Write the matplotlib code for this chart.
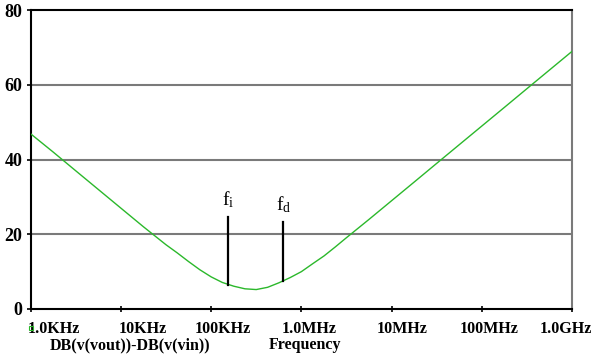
import matplotlib.pyplot as plt
from matplotlib.lines import Line2D
from matplotlib.transforms import ScaledTranslation

plt.rcParams["font.family"] = ["Liberation Serif", "DejaVu Serif"]
plt.rcParams["mathtext.fontset"] = "custom"
plt.rcParams["mathtext.rm"] = "Liberation Serif"

# Gain trace DB(v(vout))-DB(v(vin)) vs frequency
freq_hz = [1.0e3, 1.78e3, 3.16e3, 5.62e3, 1.0e4, 1.78e4, 3.16e4, 4.22e4,
           5.62e4, 7.50e4, 1.0e5, 1.33e5, 1.78e5, 2.37e5, 3.16e5, 4.22e5,
           5.62e5, 7.50e5, 1.0e6, 1.33e6, 1.78e6, 2.37e6, 3.16e6, 5.62e6,
           1.0e7, 1.78e7, 3.16e7, 5.62e7, 1.0e8, 1.78e8, 3.16e8, 5.62e8, 1.0e9]
gain_db = [46.9, 42.0, 37.0, 32.0, 27.0, 22.0, 17.2, 15.0,
           12.7, 10.5, 8.6, 7.1, 6.1, 5.4, 5.2, 5.8,
           7.0, 8.4, 10.0, 12.1, 14.2, 16.6, 19.1, 24.0,
           29.0, 34.0, 39.0, 44.0, 49.0, 54.0, 59.0, 64.0, 69.0]

# corner frequency markers f_i and f_d
mark_names = ["i", "d"]
mark_freq = [1.55e5, 6.3e5]
mark_low = [6.4, 7.4]
mark_high = [24.5, 23.2]

xticks = [1e3, 1e4, 1e5, 1e6, 1e7, 1e8, 1e9]
xtick_labels = ["1.0KHz", "10KHz", "100KHz", "1.0MHz", "10MHz", "100MHz", "1.0GHz"]
xlabel_shift_px = [23, 22, 12, 8, 10, 7, -6]
yticks = [0, 20, 40, 60, 80]

fig = plt.figure(figsize=(5.94, 3.55), dpi=100)
ax = fig.add_axes([0.0514, 0.1296, 0.9121, 0.8422])

ax.plot(freq_hz, gain_db, color="#2bb82b", lw=1.0, zorder=3)

for name, f, lo, hi in zip(mark_names, mark_freq, mark_low, mark_high):
    ax.plot([f, f], [lo, hi], color="black", lw=1.6, zorder=4)
    ax.text(f, hi + 2.0, r"$\mathregular{f_%s}$" % name, ha="center",
            va="bottom", fontsize=14)

ax.set_xscale("log")
ax.set_xlim(1e3, 1e9)
ax.set_ylim(0, 80)
ax.minorticks_off()

for y in [20, 40, 60]:
    ax.axhline(y, color="#7a7a7a", lw=1.5, zorder=1)

ax.set_xticks(xticks)
ax.set_xticklabels(xtick_labels, fontsize=11.5, fontweight="bold")
ax.set_yticks(yticks)
ax.set_yticklabels([str(v) for v in yticks], fontsize=13, fontweight="bold")
ax.tick_params(axis="x", direction="inout", length=5, width=1.2, pad=6)
ax.tick_params(axis="y", direction="out", length=3, width=1.2, pad=3)

for lab, dx in zip(ax.get_xticklabels(), xlabel_shift_px):
    lab.set_transform(lab.get_transform() + ScaledTranslation(dx / 100, 0, fig.dpi_scale_trans))

for side in ["left", "bottom", "top"]:
    ax.spines[side].set_color("black")
    ax.spines[side].set_linewidth(1.5)
ax.spines["right"].set_color("#7a7a7a")
ax.spines["right"].set_linewidth(1.5)

# trace legend symbol and axis caption under the plot
fig.add_artist(Line2D([31 / 594], [1 - 328 / 355], marker="s", markersize=3,
                      markerfacecolor="none", markeredgecolor="#2bb82b",
                      markeredgewidth=0.8, linestyle="none"))
fig.text(130 / 594, 1 - 345 / 355, "DB(v(vout))-DB(v(vin))", fontsize=11.5,
         fontweight="bold", ha="center", va="center")
fig.text(305 / 594, 1 - 345 / 355, "Frequency", fontsize=11.5,
         fontweight="bold", ha="center", va="center")

fig.savefig("out.png", dpi=100)
